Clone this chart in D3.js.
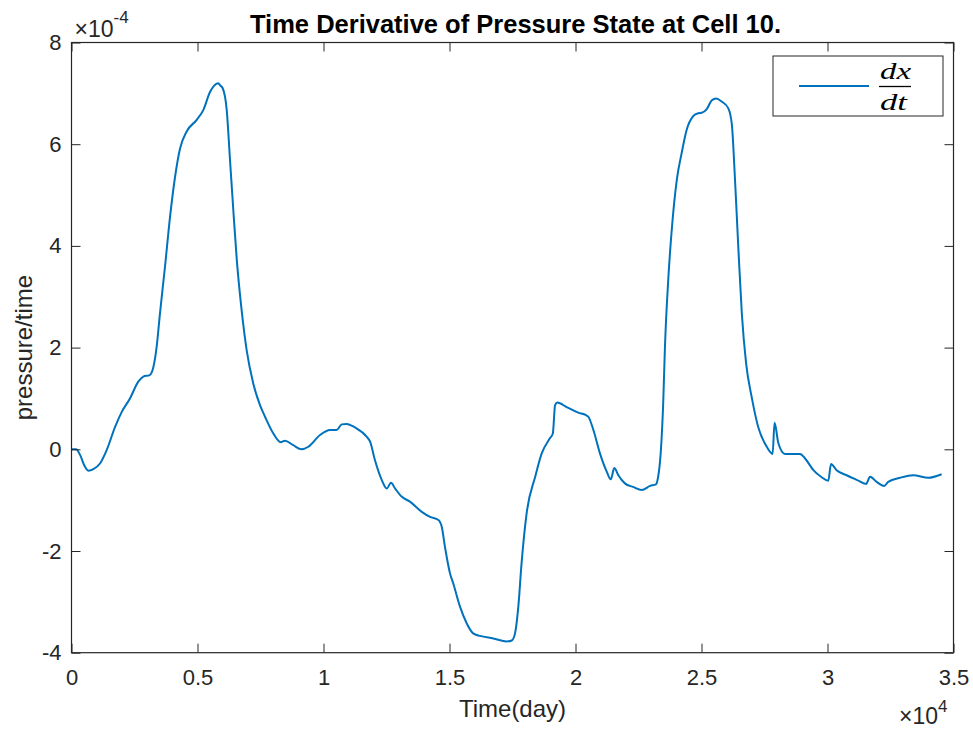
<!DOCTYPE html>
<html>
<head>
<meta charset="utf-8">
<script src="https://cdn.jsdelivr.net/npm/d3@7"></script>
<style>
  body { margin: 0; background: #fff; }
  svg { display: block; font-family: "Liberation Sans", Arial, sans-serif; }
</style>
</head>
<body>
<div id="chart"></div>
<script>
// time in days, dx/dt in units of 1e-4
const days = [0, 180, 340, 500, 670, 870, 1130, 1400, 1730, 2000, 2320, 2650, 2850, 3100, 3250, 3380, 3510, 3710, 3910, 4110, 4310, 4570, 4970, 5230, 5500, 5830, 5890, 6000, 6160, 6290, 6420, 6560, 6750, 6950, 7210, 7480, 7680, 8010, 8300, 8470, 8800, 9130, 9400, 9860, 10260, 10520, 10720, 10920, 11250, 11710, 11850, 12040, 12310, 12510, 12680, 12840, 13100, 13430, 13900, 14230, 14560, 14690, 14820, 15020, 15150, 15420, 15680, 15940, 16210, 16740, 17270, 17470, 17600, 17730, 17860, 18060, 18400, 18660, 18990, 19100, 19190, 19280, 19650, 20110, 20420, 20510, 20710, 20970, 21240, 21400, 21540, 21700, 21960, 22290, 22630, 22960, 23190, 23280, 23380, 23480, 23550, 23680, 23840, 24020, 24210, 24410, 24670, 24870, 25010, 25210, 25400, 25580, 25800, 26060, 26200, 26330, 26460, 26600, 26770, 26990, 27250, 27590, 27820, 27900, 28050, 28310, 28910, 29110, 29440, 29770, 30030, 30140, 30360, 30760, 31160, 31530, 31690, 31950, 32250, 32410, 32880, 33400, 34000, 34530];
const dxdt = [0, 0, -0.11, -0.31, -0.42, -0.39, -0.28, -0.01, 0.44, 0.74, 1.0, 1.33, 1.43, 1.46, 1.62, 2.02, 2.67, 3.59, 4.57, 5.36, 5.92, 6.25, 6.48, 6.67, 7.03, 7.2, 7.16, 7.1, 6.67, 5.69, 4.71, 3.72, 2.74, 1.95, 1.30, 0.87, 0.64, 0.31, 0.14, 0.17, 0.08, 0.0, 0.05, 0.28, 0.38, 0.38, 0.49, 0.5, 0.43, 0.25, 0.15, -0.21, -0.6, -0.77, -0.66, -0.77, -0.93, -1.03, -1.23, -1.33, -1.39, -1.52, -1.92, -2.44, -2.64, -3.1, -3.42, -3.62, -3.67, -3.72, -3.78, -3.76, -3.62, -3.1, -2.24, -1.26, -0.54, -0.08, 0.22, 0.31, 0.87, 0.92, 0.83, 0.72, 0.67, 0.64, 0.38, -0.08, -0.44, -0.59, -0.37, -0.51, -0.67, -0.74, -0.80, -0.72, -0.69, -0.54, -0.08, 0.9, 2.02, 3.33, 4.44, 5.3, 5.82, 6.28, 6.55, 6.61, 6.62, 6.69, 6.86, 6.9, 6.84, 6.71, 6.41, 5.3, 3.98, 2.67, 1.69, 1.03, 0.44, 0.05, -0.09, 0.52, 0.12, -0.09, -0.09, -0.18, -0.41, -0.55, -0.62, -0.29, -0.41, -0.51, -0.60, -0.68, -0.54, -0.64, -0.72, -0.64, -0.56, -0.51, -0.56, -0.49];

const xTicks = [0, 5000, 10000, 15000, 20000, 25000, 30000, 35000];
const xTickLabels = ["0", "0.5", "1", "1.5", "2", "2.5", "3", "3.5"];
const yTicks = [-4, -2, 0, 2, 4, 6, 8];
const yTickLabels = ["-4", "-2", "0", "2", "4", "6", "8"];

const width = 973, height = 729;
const marginLeft = 71.5, marginRight = 19.5, marginTop = 42.5, marginBottom = 76.3;
const axisColor = "#262626", lineColor = "#0072BD";

const data = days.map((d, i) => ({ t: d, v: dxdt[i] }));

const x = d3.scaleLinear()
  .domain([0, 35000])
  .range([marginLeft, width - marginRight]);

const y = d3.scaleLinear()
  .domain([-4, 8])
  .range([height - marginBottom, marginTop]);

const svg = d3.select("#chart")
  .append("svg")
  .attr("width", width)
  .attr("height", height)
  .attr("viewBox", [0, 0, width, height]);

// curve
const line = d3.line()
  .x(d => x(d.t))
  .y(d => y(d.v))
  .curve(d3.curveMonotoneX);

svg.append("path")
  .datum(data)
  .attr("fill", "none")
  .attr("stroke", lineColor)
  .attr("stroke-width", 2)
  .attr("stroke-linejoin", "round")
  .attr("d", line);

// axes, ticks pointing inward
const styleAxis = g => {
  g.select(".domain").remove();
  g.selectAll(".tick line").attr("stroke", axisColor);
  g.selectAll(".tick text").attr("fill", axisColor).attr("font-size", 22);
};

svg.append("g")
  .attr("transform", `translate(0,${height - marginBottom})`)
  .call(d3.axisBottom(x).tickValues(xTicks).tickFormat((d, i) => xTickLabels[i])
    .tickSize(-9).tickPadding(17))
  .call(styleAxis);

svg.append("g")
  .attr("transform", `translate(0,${marginTop})`)
  .call(d3.axisTop(x).tickValues(xTicks).tickFormat("").tickSize(-9))
  .call(styleAxis);

svg.append("g")
  .attr("transform", `translate(${marginLeft},0)`)
  .call(d3.axisLeft(y).tickValues(yTicks).tickFormat((d, i) => yTickLabels[i])
    .tickSize(-9).tickPadding(10))
  .call(styleAxis);

svg.append("g")
  .attr("transform", `translate(${width - marginRight},0)`)
  .call(d3.axisRight(y).tickValues(yTicks).tickFormat("").tickSize(-9))
  .call(styleAxis);

// box
svg.append("rect")
  .attr("x", marginLeft)
  .attr("y", marginTop)
  .attr("width", width - marginLeft - marginRight)
  .attr("height", height - marginTop - marginBottom)
  .attr("fill", "none")
  .attr("stroke", axisColor)
  .attr("stroke-width", 1.2);

// exponent labels
const yExp = svg.append("text")
  .attr("x", marginLeft + 3)
  .attr("y", 37)
  .attr("fill", axisColor)
  .attr("font-size", 23);
yExp.append("tspan").text("×10");
yExp.append("tspan").attr("font-size", 17).attr("dy", -14).text("-4");

const xExp = svg.append("text")
  .attr("x", 899)
  .attr("y", 724)
  .attr("fill", axisColor)
  .attr("font-size", 23);
xExp.append("tspan").text("×10");
xExp.append("tspan").attr("font-size", 17).attr("dy", -12).text("4");

// title and axis labels
svg.append("text")
  .attr("x", (marginLeft + width - marginRight) / 2 + 3)
  .attr("y", 33)
  .attr("text-anchor", "middle")
  .attr("font-weight", "bold")
  .attr("font-size", 25.5)
  .attr("fill", "#000")
  .text("Time Derivative of Pressure State at Cell 10.");

svg.append("text")
  .attr("x", (marginLeft + width - marginRight) / 2)
  .attr("y", 717)
  .attr("text-anchor", "middle")
  .attr("font-size", 24)
  .attr("fill", axisColor)
  .text("Time(day)");

svg.append("text")
  .attr("transform", `translate(32,${(marginTop + height - marginBottom) / 2}) rotate(-90)`)
  .attr("text-anchor", "middle")
  .attr("font-size", 24)
  .attr("fill", axisColor)
  .text("pressure/time");

// legend
const legend = svg.append("g").attr("transform", "translate(773,56)");
legend.append("rect")
  .attr("width", 170)
  .attr("height", 60)
  .attr("fill", "#fff")
  .attr("stroke", axisColor)
  .attr("stroke-width", 1);
legend.append("line")
  .attr("x1", 26).attr("x2", 96)
  .attr("y1", 30).attr("y2", 30)
  .attr("stroke", lineColor)
  .attr("stroke-width", 2);
const frac = legend.append("g")
  .attr("font-family", "'Liberation Serif', 'DejaVu Serif', serif")
  .attr("font-style", "italic")
  .attr("font-size", 24)
  .attr("fill", "#000");
frac.append("text")
  .attr("x", 107).attr("y", 23)
  .attr("textLength", 31).attr("lengthAdjust", "spacingAndGlyphs")
  .text("dx");
frac.append("text")
  .attr("x", 107).attr("y", 54)
  .attr("textLength", 27).attr("lengthAdjust", "spacingAndGlyphs")
  .text("dt");
legend.append("line")
  .attr("x1", 106).attr("x2", 138)
  .attr("y1", 30.5).attr("y2", 30.5)
  .attr("stroke", "#000")
  .attr("stroke-width", 1.3);
</script>
</body>
</html>
